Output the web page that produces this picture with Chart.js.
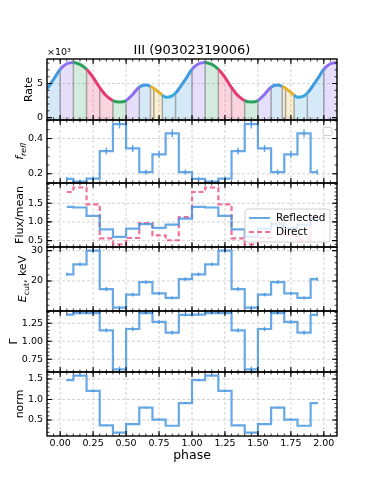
<!DOCTYPE html>
<html>
<head>
<meta charset="utf-8">
<title>III (90302319006)</title>
<script src="https://cdn.jsdelivr.net/npm/chart.js@4.4.1/dist/chart.umd.min.js"></script>
<style>
  body { margin: 0; background: #fff; }
  #fig { position: relative; width: 374px; height: 498px; overflow: hidden; }
  #fig canvas { position: absolute; left: 0; }
</style>
</head>
<body>
<div id="fig"></div>
<script>
// ---- data: one pulse period, plotted twice (phase 0-2) ----
// light curve (x10^3 counts), sampled along phase
const ratePhase = [0, 0.05, 0.1, 0.15, 0.2, 0.25, 0.3, 0.35, 0.4, 0.45, 0.5, 0.55, 0.6, 0.65, 0.685, 0.71, 0.75, 0.775, 0.8, 0.85, 0.875, 0.9, 0.95];
const rate      = [7.1, 7.9, 8.1, 7.8, 7.1, 5.9, 4.4, 3.2, 2.5, 2.3, 2.5, 3.4, 4.5, 4.8, 4.6, 4.3, 3.7, 3.3, 3.0, 3.2, 3.6, 4.2, 5.6];
// phase intervals used for the spectroscopy and their colours
const binEdges   = [0, 0.1, 0.2, 0.3, 0.4, 0.5, 0.6, 0.685, 0.71, 0.775, 0.875, 1];
const binColours = ['purple', 'green', 'red', 'red', 'green', 'purple', 'blue', 'yellow', 'yellow', 'cyan', 'blue'];

// phase-resolved fit results, centre of each 0.1 bin
const binCentre     = [0.05, 0.15, 0.25, 0.35, 0.45, 0.55, 0.65, 0.75, 0.85, 0.95];
const fRefl         = [0.171, 0.156, 0.173, 0.329, 0.482, 0.344, 0.210, 0.310, 0.429, 0.210];
const fReflErr      = [0.012, 0.010, 0.012, 0.020, 0.025, 0.020, 0.015, 0.020, 0.022, 0.015];
const fluxReflected = [1.40, 1.385, 1.16, 0.80, 0.60, 0.82, 0.94, 0.84, 0.93, 1.09];
const fluxDirect    = [1.80, 1.92, 1.47, 0.56, 0.40, 0.57, 0.97, 0.64, 0.51, 1.13];
const eCut          = [22.2, 25.5, 30.0, 17.3, 11.2, 15.5, 19.6, 15.9, 14.4, 20.6];
const eCutErr       = [0.6, 0.6, 0.7, 0.7, 0.6, 0.6, 0.6, 0.6, 0.5, 0.6];
const gamma         = [1.37, 1.39, 1.39, 1.15, 0.61, 1.17, 1.39, 1.27, 1.12, 1.365];
const gammaErr      = [0.02, 0.015, 0.015, 0.03, 0.04, 0.03, 0.015, 0.03, 0.03, 0.02];
const normK         = [1.47, 1.58, 1.21, 0.37, 0.19, 0.40, 0.80, 0.51, 0.36, 0.91];
const normErr       = [0.02, 0.02, 0.02, 0.015, 0.01, 0.015, 0.02, 0.015, 0.015, 0.02];

const phaseTicks = [0, 0.25, 0.5, 0.75, 1, 1.25, 1.5, 1.75, 2];

// ---- styling ----
const FONT = '"DejaVu Sans", "Liberation Sans", sans-serif';
Chart.defaults.font.family = FONT;
Chart.defaults.color = '#000';
const BLUE = 'rgba(66,146,222,0.8)';
const PINK = 'rgba(238,76,128,0.8)';
const palette = {
  blue:   { line: '#3f9ae0', fill: 'rgba(63,154,224,0.22)' },
  purple: { line: '#8c6ff0', fill: 'rgba(140,111,240,0.22)' },
  green:  { line: '#2aa05c', fill: 'rgba(42,160,92,0.2)' },
  red:    { line: '#e63a6e', fill: 'rgba(230,58,110,0.22)' },
  yellow: { line: '#e2b12e', fill: 'rgba(226,177,46,0.22)' },
  cyan:   { line: '#37a9dc', fill: 'rgba(55,169,220,0.22)' }
};

const frac = x => Math.round((((x % 1) + 1) % 1) * 1000) / 1000 % 1;
const colourAt = x => {
  const f = frac(x);
  for (let i = 0; i < binColours.length; i++) {
    if (f >= binEdges[i] - 1e-9 && f < binEdges[i + 1] - 1e-9) return palette[binColours[i]];
  }
  return palette.blue;
};
const isEdge = x => binEdges.some(e => Math.abs(e % 1 - frac(x)) < 1e-6);

const ratePoints = [-1, 0, 1, 2]
  .flatMap(k => ratePhase.map((p, i) => ({ x: Math.round((p + k) * 1000) / 1000, y: rate[i] })))
  .filter(pt => pt.x >= -0.1 - 1e-9 && pt.x <= 2.1 + 1e-9);
const twoCycles = vals => [0, 1].flatMap(k => binCentre.map((c, i) => ({ x: c + k, y: vals[i] })));
const twice = arr => arr.concat(arr);

function stepSet(vals, errs, colour, dash) {
  return {
    data: twoCycles(vals), errors: errs ? twice(errs) : null,
    stepped: 'middle', borderColor: colour, borderWidth: 2.2,
    borderDash: dash || [], pointRadius: 0, fill: false
  };
}

// ---- panels ----
const panels = [
  { top: 59, bottom: 120, yMin: -0.35, yMax: 8.6, yTicks: [0, 5], dec: 0, minor: 1,
    title: [{ t: 'Rate' }], rate: true,
    datasets: [{
      data: ratePoints, borderWidth: 3, pointRadius: 0, cubicInterpolationMode: 'monotone',
      fill: 'start', borderColor: palette.blue.line, backgroundColor: palette.blue.fill,
      segment: {
        borderColor: c => colourAt((ratePoints[c.p0DataIndex].x + ratePoints[c.p1DataIndex].x) / 2).line,
        backgroundColor: c => colourAt((ratePoints[c.p0DataIndex].x + ratePoints[c.p1DataIndex].x) / 2).fill
      }
    }] },
  { top: 120, bottom: 183, yMin: 0.148, yMax: 0.505, yTicks: [0.2, 0.4], dec: 1, minor: 0.05,
    title: [{ t: 'f', it: true }, { t: 'refl', it: true, sub: true }], emptyLegend: true,
    datasets: [stepSet(fRefl, fReflErr, BLUE)] },
  { top: 183, bottom: 247, yMin: 0.33, yMax: 2.04, yTicks: [0.5, 1, 1.5], dec: 1, minor: 0.1,
    title: [{ t: 'Flux/mean' }], legend: true,
    datasets: [stepSet(fluxReflected, null, BLUE), stepSet(fluxDirect, null, PINK, [5, 3])] },
  { top: 247, bottom: 311, yMin: 10.1, yMax: 31.2, yTicks: [20, 30], dec: 0, minor: 2,
    title: [{ t: 'E', it: true }, { t: 'cut', sub: true }, { t: ', keV' }],
    datasets: [stepSet(eCut, eCutErr, BLUE)] },
  { top: 311, bottom: 372, yMin: 0.573, yMax: 1.42, yTicks: [0.75, 1, 1.25], dec: 2, minor: 0.05,
    title: [{ t: 'Γ' }],
    datasets: [stepSet(gamma, gammaErr, BLUE)] },
  { top: 372, bottom: 436, yMin: 0.11, yMax: 1.67, yTicks: [0.5, 1, 1.5], dec: 1, minor: 0.1,
    title: [{ t: 'norm' }], last: true,
    datasets: [stepSet(normK, normErr, BLUE)] }
];

function drawYTitle(ctx, parts, cx, cy, size) {
  const fontFor = p => `${p.it ? 'italic ' : ''}${p.sub ? size * 0.7 : size}px ${FONT}`;
  let w = 0;
  parts.forEach(p => { ctx.font = fontFor(p); w += ctx.measureText(p.t).width; });
  ctx.save();
  ctx.translate(cx, cy);
  ctx.rotate(-Math.PI / 2);
  ctx.fillStyle = '#000';
  ctx.textBaseline = 'alphabetic';
  ctx.textAlign = 'left';
  let x = -w / 2;
  parts.forEach(p => {
    ctx.font = fontFor(p);
    ctx.fillText(p.t, x, size * 0.36 + (p.sub ? size * 0.25 : 0));
    x += ctx.measureText(p.t).width;
  });
  ctx.restore();
}

function panelPlugin(spec) {
  return {
    id: 'panel',
    beforeDatasetsDraw(chart) {
      const { ctx, chartArea: a, scales: { x, y } } = chart;
      ctx.save();
      ctx.strokeStyle = '#c6c6c6';
      ctx.lineWidth = 0.8;
      ctx.setLineDash([3, 2]);
      ctx.beginPath();
      phaseTicks.forEach(v => { const px = x.getPixelForValue(v); ctx.moveTo(px, a.top); ctx.lineTo(px, a.bottom); });
      spec.yTicks.forEach(v => { const py = y.getPixelForValue(v); ctx.moveTo(a.left, py); ctx.lineTo(a.right, py); });
      ctx.stroke();
      ctx.restore();
    },
    beforeDatasetDraw(chart, args) {
      if (!spec.rate) return;
      // grey separators of the phase intervals, under the light curve
      const { ctx, chartArea: a } = chart;
      ctx.save();
      ctx.strokeStyle = 'rgba(115,115,115,0.6)';
      ctx.lineWidth = 1.5;
      ctx.beginPath();
      args.meta.data.forEach((pt, i) => {
        const xv = ratePoints[i].x;
        if (xv <= -0.1 + 1e-6 || xv >= 2.1 - 1e-6 || !isEdge(xv)) return;
        ctx.moveTo(pt.x, a.bottom);
        ctx.lineTo(pt.x, pt.y);
      });
      ctx.stroke();
      ctx.restore();
    },
    afterDatasetsDraw(chart) {
      const { ctx, scales: { y } } = chart;
      chart.data.datasets.forEach((ds, di) => {
        if (!ds.errors) return;
        const meta = chart.getDatasetMeta(di);
        ctx.save();
        ctx.strokeStyle = ds.borderColor;
        ctx.lineWidth = 1.5;
        ctx.beginPath();
        ds.data.forEach((d, i) => {
          const px = meta.data[i].x;
          ctx.moveTo(px, y.getPixelForValue(d.y - ds.errors[i]));
          ctx.lineTo(px, y.getPixelForValue(d.y + ds.errors[i]));
        });
        ctx.stroke();
        ctx.restore();
      });
    },
    afterDraw(chart) {
      const { ctx, chartArea: a, scales: { x, y } } = chart;
      ctx.save();
      ctx.strokeStyle = '#000';
      // inward ticks on all four sides
      const tick = (x1, y1, x2, y2) => { ctx.moveTo(x1, y1); ctx.lineTo(x2, y2); };
      ctx.lineWidth = 0.8;
      ctx.beginPath();
      for (let v = -0.05; v < 2.1 - 1e-6; v += 0.05) {
        const px = x.getPixelForValue(v);
        tick(px, a.bottom, px, a.bottom - 2.5); tick(px, a.top, px, a.top + 2.5);
      }
      for (let v = Math.ceil(spec.yMin / spec.minor) * spec.minor; v < spec.yMax; v += spec.minor) {
        const py = y.getPixelForValue(v);
        tick(a.left, py, a.left + 2.5, py); tick(a.right, py, a.right - 2.5, py);
      }
      ctx.stroke();
      ctx.lineWidth = 1.1;
      ctx.beginPath();
      phaseTicks.forEach(v => {
        const px = x.getPixelForValue(v);
        tick(px, a.bottom, px, a.bottom - 5); tick(px, a.top, px, a.top + 5);
      });
      spec.yTicks.forEach(v => {
        const py = y.getPixelForValue(v);
        tick(a.left, py, a.left + 5, py); tick(a.right, py, a.right - 5, py);
      });
      ctx.stroke();
      // frame
      ctx.lineWidth = 1.4;
      ctx.strokeRect(a.left, a.top, a.right - a.left, a.bottom - a.top);
      ctx.restore();

      // y-axis label
      ctx.save();
      ctx.font = `9.5px ${FONT}`;
      const lw = Math.max(...spec.yTicks.map(v => ctx.measureText(v.toFixed(spec.dec)).width));
      ctx.restore();
      drawYTitle(ctx, spec.title, a.left - 4 - lw - 5 - 11 * 0.36, (a.top + a.bottom) / 2, 11);

      if (spec.rate) {
        ctx.save();
        ctx.font = `9.5px ${FONT}`;
        ctx.fillStyle = '#000';
        ctx.textBaseline = 'bottom';
        ctx.fillText('×10³', a.left, a.top - 2);
        ctx.restore();
      }
      if (spec.emptyLegend) {
        ctx.save();
        ctx.fillStyle = 'rgba(255,255,255,0.8)';
        ctx.strokeStyle = '#d0d0d0';
        ctx.lineWidth = 1;
        ctx.beginPath();
        ctx.roundRect(a.right - 14, a.top + 7.5, 9, 8, 2);
        ctx.fill(); ctx.stroke();
        ctx.restore();
      }
      if (spec.legend) {
        const bx = a.right - 92, by = a.bottom - 38, bw = 85, bh = 33;
        ctx.save();
        ctx.fillStyle = 'rgba(255,255,255,0.8)';
        ctx.strokeStyle = '#d0d0d0';
        ctx.lineWidth = 1;
        ctx.beginPath();
        ctx.roundRect(bx, by, bw, bh, 3);
        ctx.fill(); ctx.stroke();
        const entries = [
          { label: 'Reflected', colour: BLUE, dash: [] },
          { label: 'Direct', colour: PINK, dash: [5, 3] }
        ];
        entries.forEach((e, i) => {
          const ry = by + 9 + i * 14;
          ctx.strokeStyle = e.colour;
          ctx.lineWidth = 2;
          ctx.setLineDash(e.dash);
          ctx.beginPath();
          ctx.moveTo(bx + 4, ry); ctx.lineTo(bx + 25, ry);
          ctx.stroke();
          ctx.setLineDash([]);
          ctx.fillStyle = '#000';
          ctx.font = `10.5px ${FONT}`;
          ctx.textBaseline = 'middle';
          ctx.fillText(e.label, bx + 31, ry);
        });
        ctx.restore();
      }
    }
  };
}

const fig = document.getElementById('fig');
const MARGIN = 12;
const XAXIS_H = 40;

panels.forEach((spec, idx) => {
  const cTop = idx === 0 ? 0 : spec.top - MARGIN;
  const cBottom = spec.last ? spec.bottom + XAXIS_H : spec.bottom + MARGIN;
  const canvas = document.createElement('canvas');
  canvas.width = 374;
  canvas.height = cBottom - cTop;
  canvas.style.top = cTop + 'px';
  canvas.style.width = '374px';
  canvas.style.height = (cBottom - cTop) + 'px';
  fig.appendChild(canvas);

  new Chart(canvas.getContext('2d'), {
    type: 'line',
    data: { datasets: spec.datasets },
    options: {
      responsive: false,
      animation: false,
      devicePixelRatio: 1,
      layout: {
        padding: {
          left: 0, right: 37,
          top: idx === 0 ? 43 : spec.top - cTop,
          bottom: spec.last ? 0 : MARGIN
        }
      },
      plugins: {
        legend: { display: false },
        tooltip: { enabled: false },
        title: {
          display: idx === 0,
          text: 'III (90302319006)',
          fullSize: false,
          font: { size: 13, weight: 'normal' },
          color: '#000',
          padding: { top: 0, bottom: 0.4 }
        }
      },
      scales: {
        x: {
          type: 'linear', min: -0.1, max: 2.1,
          display: !!spec.last,
          afterBuildTicks: s => { s.ticks = phaseTicks.map(v => ({ value: v })); },
          afterFit: s => { s.height = spec.last ? XAXIS_H : 0; },
          grid: { display: false, drawTicks: false },
          border: { display: false },
          ticks: { font: { size: 9.5 }, color: '#000', padding: 2, maxRotation: 0, autoSkip: false,
                   callback: v => v.toFixed(2) },
          title: { display: true, text: 'phase', font: { size: 12.5 }, color: '#000',
                   padding: { top: 0, bottom: 12.5 } }
        },
        y: {
          type: 'linear', min: spec.yMin, max: spec.yMax,
          afterBuildTicks: s => { s.ticks = spec.yTicks.map(v => ({ value: v })); },
          afterFit: s => { s.width = 47; },
          grid: { display: false, drawTicks: false },
          border: { display: false },
          ticks: { font: { size: 9.5 }, color: '#000', padding: 4, autoSkip: false,
                   callback: v => Number(v).toFixed(spec.dec) }
        }
      }
    },
    plugins: [panelPlugin(spec)]
  });
});
</script>
</body>
</html>
